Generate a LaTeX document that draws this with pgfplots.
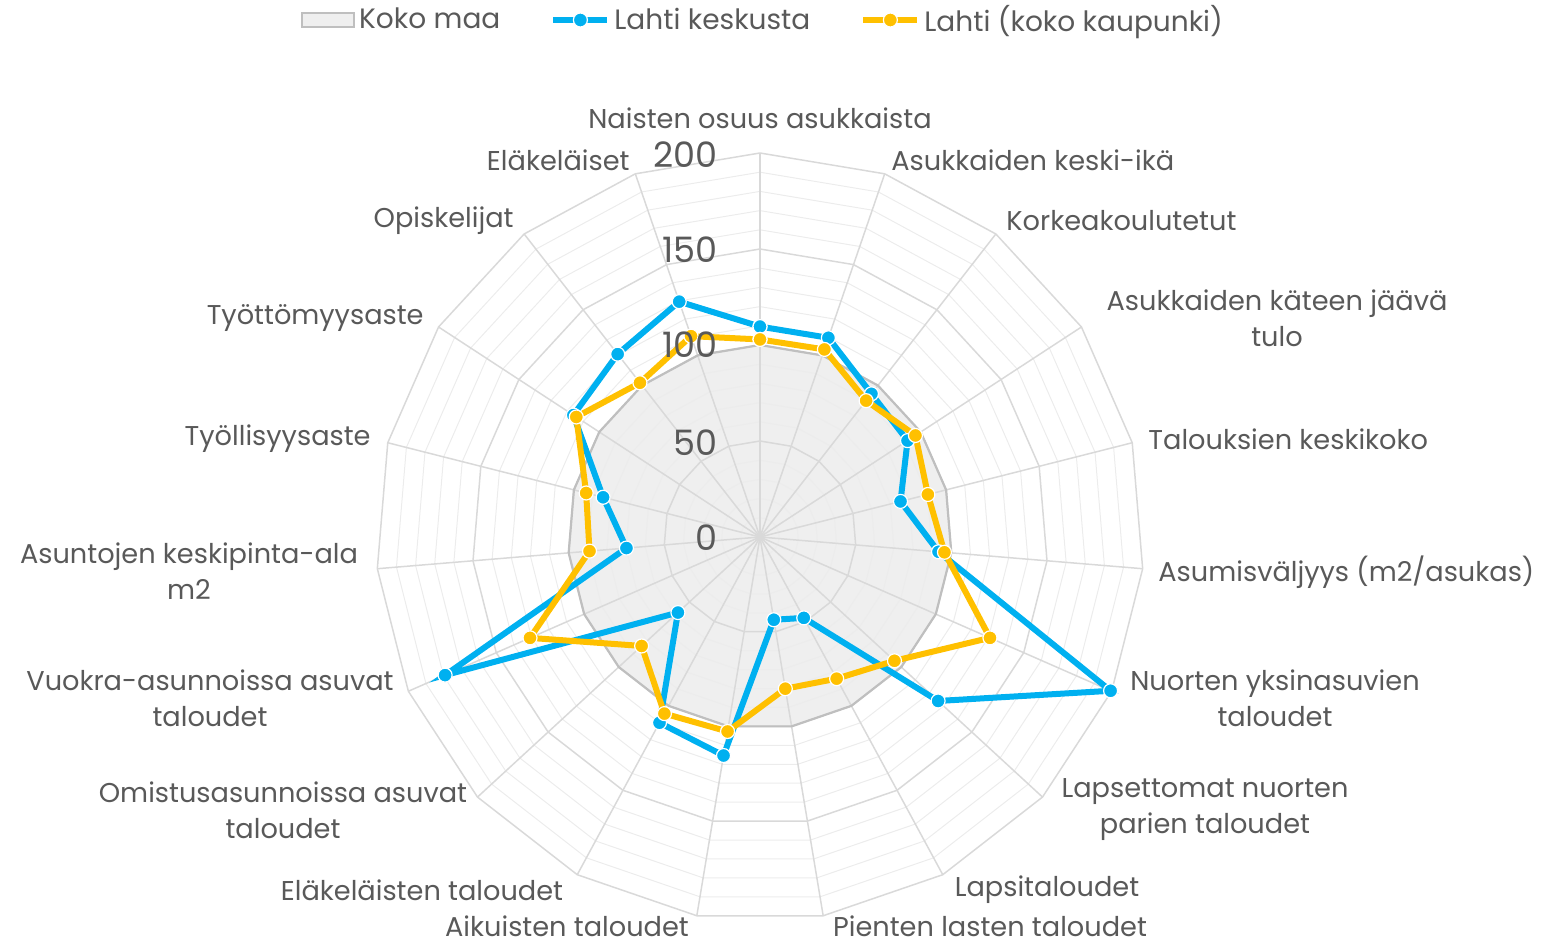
\documentclass[border=0pt]{standalone}
\usepackage{fontspec}
\setmainfont{Poppins}
\usepackage{pgfplots}
\pgfplotsset{compat=1.18}
\usepgfplotslibrary{polar}
\definecolor{lblue}{RGB}{0,176,240}
\definecolor{lyellow}{RGB}{255,192,0}
\definecolor{kokofill}{RGB}{239,239,239}
\definecolor{kokoedge}{RGB}{191,191,191}
\definecolor{majgrid}{RGB}{217,217,217}
\definecolor{mingrid}{RGB}{236,236,236}
\definecolor{txt}{RGB}{89,89,89}

\begin{document}
\begin{tikzpicture}[x=0.5pt,y=-0.5pt]
\useasboundingbox (0,0) rectangle (1542,946);
\begin{polaraxis}[
    at={(380pt,-268.5pt)}, anchor=center,
    scale only axis, width=384pt, height=384pt,
    xmin=0, xmax=360, ymin=0, ymax=200,
    hide axis, clip=false,
    legend columns=3,
    legend style={at={(0.5,1)}, anchor=center, xshift=2pt, yshift=66.5pt, draw=none, fill=none,
        font=\fontsize{14}{16}\selectfont, text=txt,
        /tikz/every even column/.append style={column sep=23pt}},
    legend image code/.code={\draw[mark repeat=2, mark phase=2]
        plot coordinates {(0pt,0pt) (13.5pt,0pt) (27pt,0pt)};},
]
% Koko maa fill
\addplot[fill=kokofill, draw=none, forget plot] coordinates {
    (90,100) (71.0526,100) (52.1053,100) (33.1579,100) (14.2105,100)
    (355.2632,100) (336.3158,100) (317.3684,100) (298.4211,100) (279.4737,100)
    (260.5263,100) (241.5789,100) (222.6316,100) (203.6842,100) (184.7368,100)
    (165.7895,100) (146.8421,100) (127.8947,100) (108.9474,100) (90,100)};
% minor rings
\pgfplotsinvokeforeach{10,20,30,40,60,70,80,90,110,120,130,140,160,170,180,190}{
\addplot[mingrid, line width=0.5pt, forget plot] coordinates {
    (90,#1) (71.0526,#1) (52.1053,#1) (33.1579,#1) (14.2105,#1)
    (355.2632,#1) (336.3158,#1) (317.3684,#1) (298.4211,#1) (279.4737,#1)
    (260.5263,#1) (241.5789,#1) (222.6316,#1) (203.6842,#1) (184.7368,#1)
    (165.7895,#1) (146.8421,#1) (127.8947,#1) (108.9474,#1) (90,#1)};
}
% major rings
\pgfplotsinvokeforeach{50,100,150,200}{
\addplot[majgrid, line width=0.75pt, forget plot] coordinates {
    (90,#1) (71.0526,#1) (52.1053,#1) (33.1579,#1) (14.2105,#1)
    (355.2632,#1) (336.3158,#1) (317.3684,#1) (298.4211,#1) (279.4737,#1)
    (260.5263,#1) (241.5789,#1) (222.6316,#1) (203.6842,#1) (184.7368,#1)
    (165.7895,#1) (146.8421,#1) (127.8947,#1) (108.9474,#1) (90,#1)};
}
% spokes
\pgfplotsinvokeforeach{90,71.0526,52.1053,33.1579,14.2105,355.2632,336.3158,317.3684,298.4211,279.4737,260.5263,241.5789,222.6316,203.6842,184.7368,165.7895,146.8421,127.8947,108.9474}{
\addplot[majgrid, line width=0.75pt, forget plot] coordinates {(#1,0) (#1,200)};
}
% Koko maa edge
\addplot[kokoedge, line width=1.1pt, forget plot] coordinates {
    (90,100) (71.0526,100) (52.1053,100) (33.1579,100) (14.2105,100)
    (355.2632,100) (336.3158,100) (317.3684,100) (298.4211,100) (279.4737,100)
    (260.5263,100) (241.5789,100) (222.6316,100) (203.6842,100) (184.7368,100)
    (165.7895,100) (146.8421,100) (127.8947,100) (108.9474,100) (90,100)};
\addlegendimage{area legend, fill=kokofill, draw=kokoedge, line width=1pt,
    legend image code/.code={\draw (0pt,-3.5pt) rectangle (26pt,3.5pt);}}
\addlegendentry{Koko maa}
% Lahti keskusta
\addplot[lblue, line width=3pt, mark=*, mark size=3.5pt,
    mark options={fill=lblue, draw=white, line width=0.6pt}] coordinates {
    (90,109.6) (71.0526,109.7) (52.1053,94.5) (33.1579,91.8) (14.2105,75.5)
    (355.2632,93.3) (336.3158,199.4) (317.3684,126.1) (298.4211,47.9) (279.4737,43.7)
    (260.5263,115.4) (241.5789,110.0) (222.6316,58.1) (203.6842,179.1) (184.7368,69.8)
    (165.7895,84.3) (146.8421,116.1) (127.8947,120.7) (108.9474,129.6) (90,109.6)};
\addlegendentry{Lahti keskusta}
% Lahti koko kaupunki
\addplot[lyellow, line width=3pt, mark=*, mark size=3.5pt,
    mark options={fill=lyellow, draw=white, line width=0.6pt}] coordinates {
    (90,102.9) (71.0526,103.3) (52.1053,90.0) (33.1579,96.7) (14.2105,90.2)
    (355.2632,96.4) (336.3158,130.8) (317.3684,95.2) (298.4211,83.9) (279.4737,80.1)
    (260.5263,102.7) (241.5789,104.6) (222.6316,83.8) (203.6842,130.8) (184.7368,89.1)
    (165.7895,93.4) (146.8421,114.3) (127.8947,101.8) (108.9474,110.6) (90,102.9)};
\addlegendentry{Lahti (koko kaupunki)}
\end{polaraxis}
% radial tick labels
\begin{scope}[every node/.style={text=txt, font=\fontsize{17.5}{17.5}\selectfont, anchor=east, inner sep=0pt}]
\node at (718,155) {200};
\node at (718,250) {150};
\node at (718,345) {100};
\node at (718,443) {50};
\node at (718,538) {0};
\end{scope}
% category labels
\begin{scope}[every node/.style={text=txt, font=\fontsize{13.6}{18}\selectfont, align=center, inner sep=0pt}]
\node at (760,118) {Naisten osuus asukkaista};
\node[anchor=west] at (891,160) {Asukkaiden keski-ikä};
\node[anchor=west] at (1006,221) {Korkeakoulutetut};
\node at (1277,318) {Asukkaiden käteen jäävä\\tulo};
\node[anchor=west] at (1148,439) {Talouksien keskikoko};
\node[anchor=west] at (1158,572) {Asumisväljyys (m2/asukas)};
\node at (1275,698) {Nuorten yksinasuvien\\taloudet};
\node at (1205,810) {Lapsettomat nuorten\\parien taloudet};
\node at (1047,890) {Lapsitaloudet};
\node at (990,926) {Pienten lasten taloudet};
\node at (567,926) {Aikuisten taloudet};
\node at (422,890) {Eläkeläisten taloudet};
\node at (283,810) {Omistusasunnoissa asuvat\\taloudet};
\node at (210,698) {Vuokra-asunnoissa asuvat\\taloudet};
\node at (189,571) {Asuntojen keskipinta-ala\\m2};
\node[anchor=east] at (371,439) {Työllisyysaste};
\node[anchor=east] at (424,318) {Työttömyysaste};
\node[anchor=east] at (514,221) {Opiskelijat};
\node[anchor=east] at (630,160) {Eläkeläiset};
\end{scope}
\end{tikzpicture}
\end{document}
